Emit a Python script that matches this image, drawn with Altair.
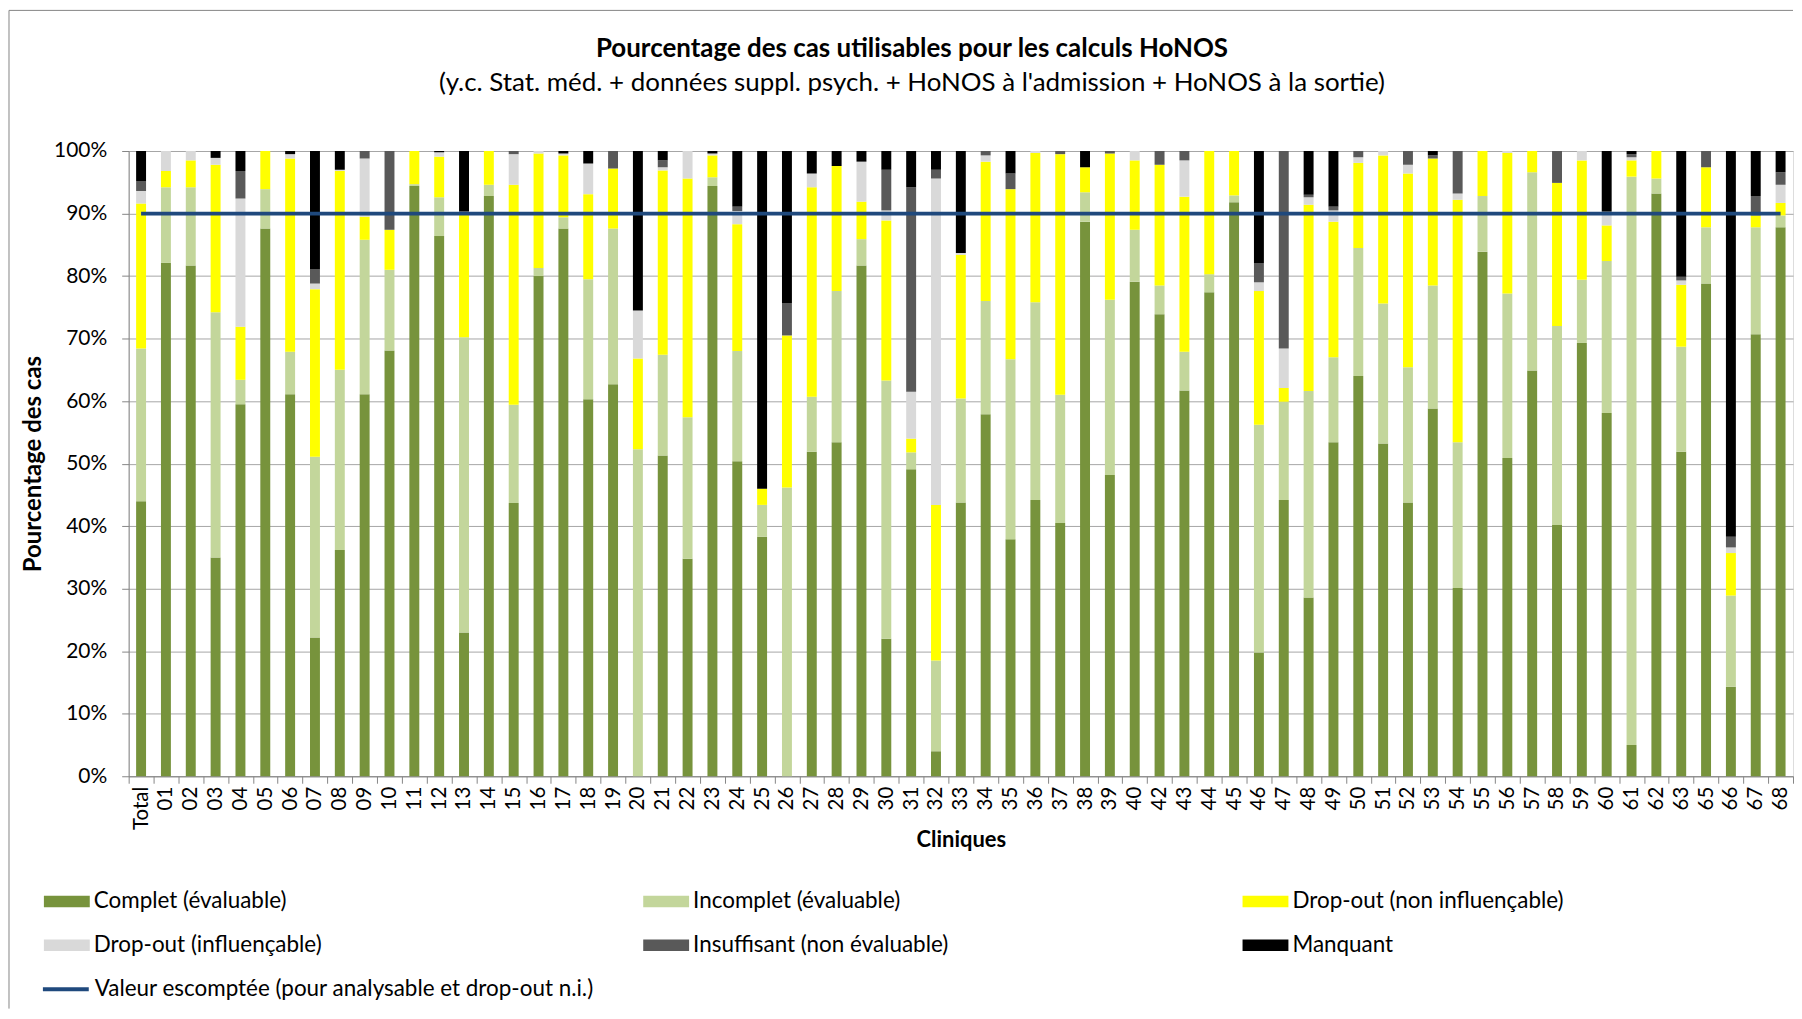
import altair as alt
import pandas as pd

clinics = ["Total", "01", "02", "03", "04", "05", "06", "07", "08", "09", "10",
           "11", "12", "13", "14", "15", "16", "17", "18", "19", "20", "21",
           "22", "23", "24", "25", "26", "27", "28", "29", "30", "31", "32", "33",
           "34", "35", "36", "37", "38", "39", "40",
           "42", "43", "44", "45",
           "46", "47", "48", "49", "50", "51", "52", "53", "54", "55", "56",
           "57", "58", "59", "60", "61", "62", "63",
           "65", "66", "67", "68"]

complet = [44.0, 82.1, 81.7, 35.0, 59.5, 87.6, 61.1, 22.2, 36.2, 61.1, 68.1,
           94.4, 86.4, 23.0, 92.8, 43.7, 80.0, 87.6, 60.3, 62.7, 0.0, 51.3,
           34.8, 94.4, 50.4, 38.3, 0.0, 51.9, 53.4, 81.7, 22.0, 49.1, 4.0, 43.8,
           57.9, 37.9, 44.2, 40.5, 88.7, 48.2, 79.1,
           73.9, 61.7, 77.4, 91.8,
           19.8, 44.2, 28.6, 53.4, 64.0, 53.2, 43.8, 58.8, 30.1, 83.9, 50.9,
           64.9, 40.2, 69.3, 58.1, 5.0, 93.2, 51.9,
           78.8, 14.3, 70.7, 87.8]

incomplet = [24.4, 12.1, 12.5, 39.2, 3.9, 6.3, 6.8, 28.9, 28.8, 24.7, 12.9,
             0.3, 6.2, 47.2, 1.8, 15.7, 1.3, 1.8, 19.2, 24.9, 52.3, 16.1,
             22.6, 1.4, 17.6, 5.1, 46.2, 8.8, 24.2, 4.2, 41.3, 2.7, 14.5, 16.6,
             18.1, 28.8, 31.6, 20.5, 4.7, 28.0, 8.3,
             4.6, 6.2, 2.9, 1.1,
             36.4, 15.7, 33.0, 13.6, 20.5, 22.4, 21.6, 19.7, 23.3, 8.9, 26.3,
             31.7, 31.8, 10.1, 24.3, 90.9, 2.4, 16.8,
             9.0, 14.6, 17.1, 1.9]

dropout_ni = [23.2, 2.6, 4.3, 23.6, 8.5, 6.1, 30.9, 26.8, 31.8, 3.7, 6.4,
              5.3, 6.5, 19.8, 5.4, 35.2, 18.3, 9.9, 13.6, 9.6, 14.5, 29.5,
              38.2, 3.5, 20.3, 2.6, 24.3, 33.5, 20.0, 6.0, 25.6, 2.2, 24.9, 23.0,
              22.3, 27.2, 23.9, 38.5, 4.0, 23.4, 11.1,
              19.3, 24.8, 19.7, 7.1,
              21.4, 2.2, 29.8, 21.7, 13.6, 23.7, 31.0, 20.3, 38.8, 7.2, 22.5,
              3.4, 22.9, 19.1, 5.7, 2.6, 4.4, 9.9,
              9.6, 6.8, 1.9, 2.0]

dropout_i = [2.0, 3.2, 1.5, 1.1, 20.5, 0.0, 0.7, 0.9, 0.2, 9.3, 0.0,
             0.0, 0.7, 0.0, 0.0, 4.9, 0.4, 0.3, 4.9, 0.0, 7.7, 0.5,
             4.4, 0.3, 2.1, 0.0, 0.0, 2.2, 0.0, 6.4, 1.6, 7.5, 52.2, 0.3,
             1.0, 0.0, 0.3, 0.0, 0.0, 0.0, 1.5,
             0.0, 5.8, 0.0, 0.0,
             1.4, 6.3, 1.2, 1.8, 0.9, 0.7, 1.4, 0.0, 1.0, 0.0, 0.3,
             0.0, 0.0, 1.5, 2.2, 0.5, 0.0, 0.7,
             0.0, 0.9, 0.0, 2.9]

insuffisant = [1.6, 0.0, 0.0, 0.0, 4.4, 0.0, 0.0, 2.3, 0.0, 1.2, 12.6,
               0.0, 0.0, 0.4, 0.0, 0.5, 0.0, 0.0, 0.0, 2.8, 0.0, 1.1,
               0.0, 0.0, 0.7, 0.0, 5.2, 0.0, 0.0, 0.0, 6.5, 32.7, 1.4, 0.0,
               0.7, 2.5, 0.0, 0.5, 0.0, 0.4, 0.0,
               2.2, 1.5, 0.0, 0.0,
               3.1, 31.6, 0.4, 0.6, 1.0, 0.0, 2.2, 0.5, 6.8, 0.0, 0.0,
               0.0, 5.1, 0.0, 0.0, 0.5, 0.0, 0.6,
               2.6, 1.7, 3.1, 2.0]

manquant = [4.8, 0.0, 0.0, 1.1, 3.2, 0.0, 0.5, 18.9, 3.0, 0.0, 0.0,
            0.0, 0.2, 9.6, 0.0, 0.0, 0.0, 0.4, 2.0, 0.0, 25.5, 1.5,
            0.0, 0.4, 8.9, 54.0, 24.3, 3.6, 2.4, 1.7, 3.0, 5.8, 3.0, 16.3,
            0.0, 3.6, 0.0, 0.0, 2.6, 0.0, 0.0,
            0.0, 0.0, 0.0, 0.0,
            17.9, 0.0, 7.0, 8.9, 0.0, 0.0, 0.0, 0.7, 0.0, 0.0, 0.0,
            0.0, 0.0, 0.0, 9.7, 0.5, 0.0, 20.1,
            0.0, 61.7, 7.2, 3.4]

valeur_escomptee = 90.0

series_names = ["Complet (évaluable)", "Incomplet (évaluable)", "Drop-out (non influençable)",
                "Drop-out (influençable)", "Insuffisant (non évaluable)", "Manquant"]
series_colors = ["#77933C", "#C3D69B", "#FFFF00", "#D9D9D9", "#595959", "#000000"]
line_name = "Valeur escomptée (pour analysable et drop-out n.i.)"
line_color = "#1F497D"

FONT = "Lato"
GREY = "#868686"
W, H = 1669, 627
LEG_FS = 22.5

rows = []
for k, (name, vals) in enumerate(zip(series_names,
                                     [complet, incomplet, dropout_ni, dropout_i, insuffisant, manquant])):
    for c, v in zip(clinics, vals):
        rows.append({"clinique": c, "serie": name, "ordre": k, "valeur": v / 100.0})
bars_df = pd.DataFrame(rows)
line_df = pd.DataFrame({"clinique": clinics, "serie": line_name,
                        "valeur": [valeur_escomptee / 100.0] * len(clinics)})

x_enc = alt.X(
    "clinique:N", sort=clinics,
    scale=alt.Scale(paddingInner=0, paddingOuter=0),
    axis=alt.Axis(
        title="Cliniques", labelAngle=-90, tickBand="extent", tickSize=7,
        labelPadding=3, labelFont=FONT, labelFontSize=20.5, labelColor="black",
        titleFont=FONT, titleFontSize=22, titleFontWeight="bold", titleColor="black",
        titlePadding=0, domainColor=GREY, tickColor=GREY, grid=False,
    ),
)

y_enc = alt.Y(
    "valeur:Q", stack="zero",
    scale=alt.Scale(domain=[0, 1], nice=False),
    axis=alt.Axis(
        values=[0, 0.1, 0.2, 0.3, 0.4, 0.5, 0.6, 0.7, 0.8, 0.9, 1.0],
        format=".0%", title="Pourcentage des cas",
        labelFont=FONT, labelFontSize=21, labelColor="black", labelPadding=15,
        titleFont=FONT, titleFontSize=24, titleFontWeight="bold", titleColor="black",
        titlePadding=8, tickSize=7, tickColor=GREY, domainColor=GREY,
        grid=True, gridColor="#A6A6A6",
    ),
)

bars = alt.Chart(bars_df).mark_bar(width=alt.RelativeBandSize(0.4)).encode(
    x=x_enc,
    y=y_enc,
    order=alt.Order("ordre:Q", sort="ascending"),
    color=alt.Color(
        "serie:N",
        scale=alt.Scale(domain=series_names, range=series_colors),
        legend=alt.Legend(
            title=None, orient="none", legendX=-85, legendY=741, columns=3,
            direction="horizontal",
            gridAlign="all", columnPadding=278, rowPadding=21, padding=0,
            symbolType="M-1,-0.5L3,-0.5L3,0.5L-1,0.5Z", symbolSize=529,
            symbolStrokeWidth=0, symbolOffset=0, labelOffset=27,
            labelFont=FONT, labelFontSize=LEG_FS, labelColor="black", labelLimit=800,
        ),
    ),
)

line = alt.Chart(line_df).mark_line(strokeWidth=3.8).encode(
    x=alt.X("clinique:N", sort=clinics),
    y=alt.Y("valeur:Q"),
    color=alt.Color(
        "serie:N",
        scale=alt.Scale(domain=[line_name], range=[line_color]),
        legend=alt.Legend(
            title=None, orient="none", legendX=-88, legendY=827, padding=0,
            symbolType="M-1,0L3,0", symbolSize=529, symbolStrokeWidth=4,
            symbolOffset=0, labelOffset=27,
            labelFont=FONT, labelFontSize=LEG_FS, labelColor="black", labelLimit=800,
        ),
    ),
)

frame_df = pd.DataFrame({"k": [0]})
left_border = alt.Chart(frame_df).mark_rule(color=GREY, strokeWidth=1).encode(
    x=alt.value(-120), y=alt.value(-141), y2=alt.value(860))
top_border = alt.Chart(frame_df).mark_rule(color=GREY, strokeWidth=1).encode(
    x=alt.value(-120), x2=alt.value(W), y=alt.value(-141))

chart = alt.layer(bars, line, left_border, top_border).resolve_scale(
    color="independent"
).properties(
    width=W, height=H, padding=0,
    title=alt.TitleParams(
        text="Pourcentage des cas utilisables pour les calculs HoNOS",
        subtitle="(y.c. Stat. méd. + données suppl. psych. + HoNOS à l'admission + HoNOS à la sortie)",
        font=FONT, fontSize=26, fontWeight="bold", color="black",
        subtitleFont=FONT, subtitleFontSize=26, subtitleColor="black",
        subtitlePadding=8.5, anchor="middle", dx=-49, offset=-86.5,
    ),
).configure_view(strokeWidth=0).configure(background="white")

chart.save("out.html", embed_options={"renderer": "svg", "actions": False})
